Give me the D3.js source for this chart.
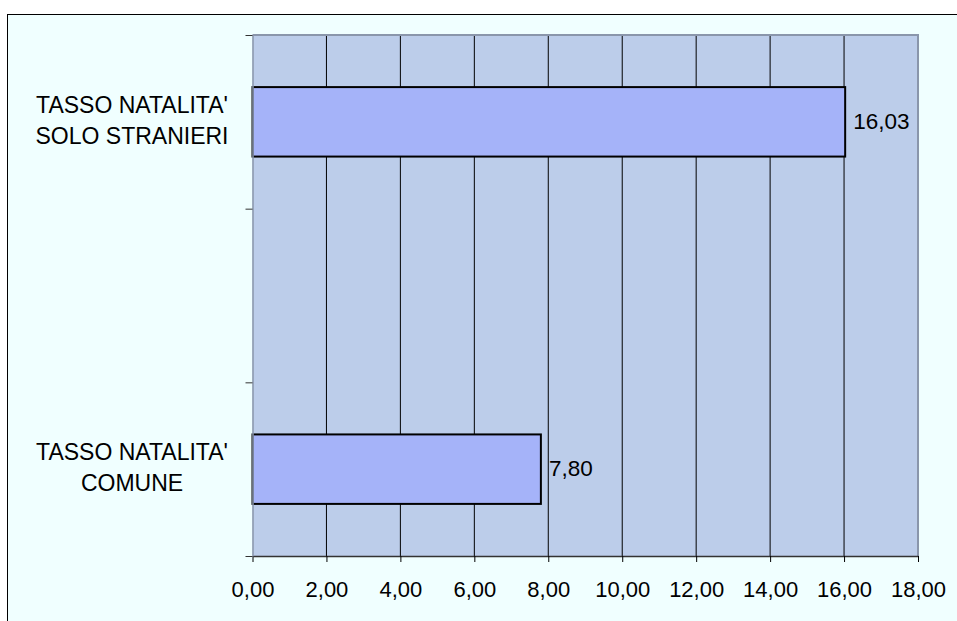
<!DOCTYPE html>
<html>
<head>
<meta charset="utf-8">
<script src="https://d3js.org/d3.v7.min.js"></script>
<style>
  html, body { margin: 0; padding: 0; background: #ffffff; }
  svg { display: block; font-family: "Liberation Sans", Arial, sans-serif; }
</style>
</head>
<body>
<svg id="chart"></svg>
<script>
// data, top to bottom (middle slot is empty in the original sheet)
var categories = ["SOLO STRANIERI", "VUOTO", "COMUNE"];
var categoryLines = [["TASSO NATALITA'", "SOLO STRANIERI"], [], ["TASSO NATALITA'", "COMUNE"]];
var values = [16.03, null, 7.80];
var xTicks = [0, 2, 4, 6, 8, 10, 12, 14, 16, 18];

var W = 957, H = 621;
var plot = {left: 252.5, top: 35, right: 918, bottom: 556};

var svg = d3.select("#chart").attr("width", W).attr("height", H);

// chart area box (runs off the picture at right and bottom)
svg.append("rect")
    .attr("x", 7.5).attr("y", 14.5)
    .attr("width", 1000).attr("height", 700)
    .attr("fill", "#f0ffff")
    .attr("stroke", "#000").attr("stroke-width", 1);

var itLocale = d3.formatLocale({decimal: ",", thousands: ".", grouping: [3], currency: ["", "€"]});
var fmt = itLocale.format(".2f");

var x = d3.scaleLinear().domain([0, 18]).range([plot.left, plot.right]);
var y = d3.scaleBand().domain(categories).range([plot.top, plot.bottom])
    .paddingInner(0.6).paddingOuter(0.3);
// category boundaries for the left ticks
var yEdge = d3.scaleLinear().domain([0, categories.length]).range([plot.top, plot.bottom]);

// plot background
svg.append("rect")
    .attr("x", plot.left).attr("y", plot.top)
    .attr("width", plot.right - plot.left).attr("height", plot.bottom - plot.top)
    .attr("fill", "#bccdea");

// vertical gridlines
svg.append("g").selectAll("line")
    .data(xTicks.slice(1, -1))
  .enter().append("line")
    .attr("x1", function(d) { return x(d); })
    .attr("x2", function(d) { return x(d); })
    .attr("y1", plot.top).attr("y2", plot.bottom)
    .attr("stroke", "#000").attr("stroke-width", 1);

// plot frame (top + right in grey)
svg.append("path")
    .attr("d", "M" + plot.left + "," + plot.top + "H" + plot.right + "V" + plot.bottom)
    .attr("fill", "none").attr("stroke", "#8a96ab").attr("stroke-width", 2);

// bars
var rows = categories.map(function(c, i) { return {cat: c, value: values[i]}; })
    .filter(function(d) { return d.value != null; });

svg.append("g").selectAll("rect")
    .data(rows)
  .enter().append("rect")
    .attr("x", x(0))
    .attr("y", function(d) { return y(d.cat); })
    .attr("width", function(d) { return x(d.value) - x(0); })
    .attr("height", y.bandwidth())
    .attr("fill", "#a5b3f9")
    .attr("stroke", "#000").attr("stroke-width", 2);

// value labels
svg.append("g").selectAll("text")
    .data(rows)
  .enter().append("text")
    .attr("x", function(d) { return x(d.value) + 8; })
    .attr("y", function(d) { return y(d.cat) + y.bandwidth() / 2; })
    .attr("dy", "0.3em")
    .attr("font-size", "22.5px")
    .attr("fill", "#000")
    .text(function(d) { return fmt(d.value); });

// x axis
var xAxis = svg.append("g")
    .attr("transform", "translate(0," + plot.bottom + ")")
    .call(d3.axisBottom(x).tickValues(xTicks).tickFormat(fmt).tickSize(6).tickSizeOuter(0));
xAxis.select(".domain").attr("stroke", "#333").attr("stroke-width", 1.5);
xAxis.selectAll(".tick line").attr("stroke", "#000");
xAxis.selectAll(".tick text")
    .attr("font-size", "22px").attr("fill", "#000")
    .attr("font-family", "'Liberation Sans', Arial, sans-serif")
    .attr("y", 25.5);

// y axis (ticks on category boundaries, no labels)
var yAxis = svg.append("g")
    .attr("transform", "translate(" + plot.left + ",0)")
    .call(d3.axisLeft(yEdge).tickValues(d3.range(categories.length + 1)).tickFormat("").tickSize(7).tickSizeOuter(0));
yAxis.select(".domain").attr("stroke", "#8a96ab").attr("stroke-width", 1.5);
yAxis.selectAll(".tick line").attr("stroke", "#333");

// category labels, centred in the left margin
var lineH = 31.3;
var lab = svg.append("g").selectAll("text")
    .data(categories.map(function(c, i) { return {cat: c, lines: categoryLines[i]}; }))
  .enter().append("text")
    .attr("text-anchor", "middle")
    .attr("font-size", "23px")
    .attr("fill", "#000");
lab.each(function(d) {
  var t = d3.select(this);
  var cy = y(d.cat) + y.bandwidth() / 2 - 1.5;
  var n = d.lines.length;
  d.lines.forEach(function(s, i) {
    t.append("tspan")
      .attr("x", 132)
      .attr("y", cy + (i - (n - 1) / 2) * lineH)
      .attr("dy", "0.35em")
      .text(s);
  });
});
</script>
</body>
</html>
